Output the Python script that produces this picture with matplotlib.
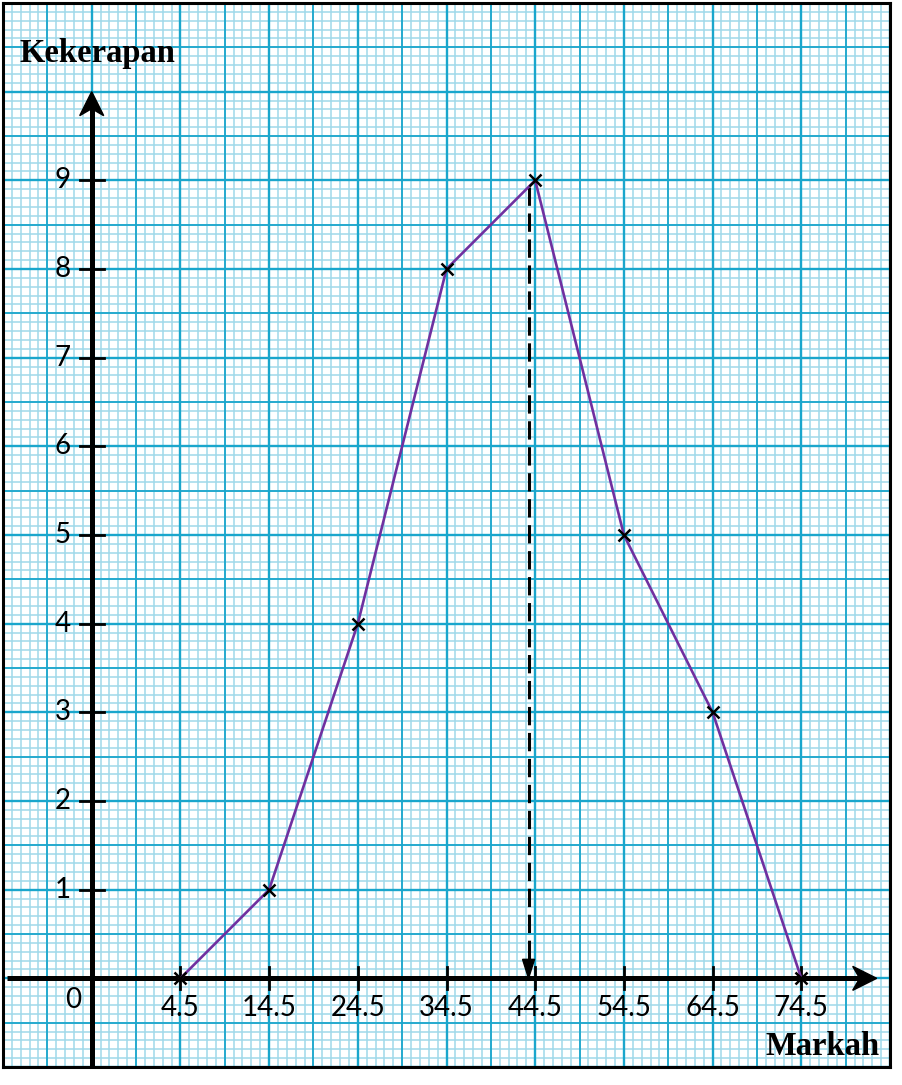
import numpy as np
import matplotlib
matplotlib.use("Agg")
import matplotlib.pyplot as plt
from matplotlib.patches import Polygon

# Data
marks = [4.5, 14.5, 24.5, 34.5, 44.5, 54.5, 64.5, 74.5]
freq = [0, 1, 4, 8, 9, 5, 3, 0]
y_ticks = [1, 2, 3, 4, 5, 6, 7, 8, 9]
x_labels = ["4.5", "14.5", "24.5", "34.5", "44.5", "54.5", "64.5", "74.5"]
mode_mark = 44.5
y_title = "Kekerapan"
x_title = "Markah"

W, H = 902, 1085
fig = plt.figure(figsize=(W / 100, H / 100), dpi=100)
ax = fig.add_axes([3 / W, 18 / H, 887 / W, 1064 / H])
X0, X1, Y0, Y1 = -15.5, 84.5, -1.0, 11.0
ax.set_xlim(X0, X1)
ax.set_ylim(Y0, Y1)
ax.set_xticks([])
ax.set_yticks([])
for s in ax.spines.values():
    s.set_linewidth(2.2)
    s.set_color("black")
    s.set_zorder(10)

major_c = "#1aa6cc"
minor_c = "#9fd9ea"

# graph paper grid
xs_minor = np.arange(X0, X1 + 0.01, 1.0)
ys_minor = np.arange(Y0, Y1 + 0.001, 0.1)
ax.vlines(xs_minor, Y0, Y1, colors=minor_c, linewidth=1.1, zorder=0)
ax.hlines(ys_minor, X0, X1, colors=minor_c, linewidth=1.1, zorder=0)
xs_med = np.arange(X0, X1 + 0.01, 5.0)
ys_med = np.arange(Y0, Y1 + 0.001, 0.5)
ax.vlines(xs_med, Y0, Y1, colors=major_c, linewidth=1.3, zorder=1)
ax.hlines(ys_med, X0, X1, colors=major_c, linewidth=1.3, zorder=1)
xs_maj = np.arange(X0, X1 + 0.01, 10.0)
ys_maj = np.arange(Y0, Y1 + 0.001, 1.0)
ax.vlines(xs_maj, Y0, Y1, colors=major_c, linewidth=1.7, zorder=1)
ax.hlines(ys_maj, X0, X1, colors=major_c, linewidth=1.7, zorder=1)

# scale: px per unit
px_x = 887 / (X1 - X0)
px_y = 1064 / (Y1 - Y0)

yax_x = -5.5
ax_lw = 3.6
# y axis
ax.plot([yax_x, yax_x], [Y0, 9.85], color="black", lw=ax_lw, solid_capstyle="butt", zorder=5)
tip = 10.0
ax.add_patch(Polygon([[yax_x, tip], [yax_x - 12 / px_x, tip - 24 / px_y],
                      [yax_x, tip - 17 / px_y], [yax_x + 12 / px_x, tip - 24 / px_y]],
                     closed=True, color="black", zorder=6))
# x axis
ax.plot([X0 + 0.5, 81.5], [0, 0], color="black", lw=ax_lw, solid_capstyle="butt", zorder=5)
tipx = 83.0
ax.add_patch(Polygon([[tipx, 0], [tipx - 24 / px_x, 12 / px_y],
                      [tipx - 17 / px_x, 0], [tipx - 24 / px_x, -12 / px_y]],
                     closed=True, color="black", zorder=6))

fs = 20
# ticks
for yv in y_ticks:
    ax.plot([yax_x - 12 / px_x, yax_x + 12 / px_x], [yv, yv], color="black", lw=2.0, zorder=5)
    ax.text(-7.9, yv, str(yv), ha="right", va="center", fontsize=fs, family="Lato", zorder=7)
for xv, lab in zip(marks, x_labels):
    ax.plot([xv, xv], [-11 / px_y, 11 / px_y], color="black", lw=2.0, zorder=5)
    ax.text(xv, -0.19, lab, ha="center", va="top", fontsize=fs, family="Lato", zorder=7)
ax.text(-7.6, -0.25, "0", ha="center", va="center", fontsize=fs, family="Lato", zorder=7)

# titles
ax.text(-13.6, 10.43, y_title, ha="left", va="center", fontsize=23.5, fontweight="bold",
        family="Liberation Serif", zorder=7)
ax.text(83.3, -0.77, x_title, ha="right", va="center", fontsize=23.5, fontweight="bold",
        family="Liberation Serif", zorder=7)

# polygon
ax.plot(marks, freq, color="#7030a0", lw=1.9, zorder=7)
ax.plot(marks, freq, linestyle="none", marker="x", markersize=9, mew=1.8, color="black", zorder=8)

# dashed mode line
dx = mode_mark - 0.75
ax.plot([dx, dx], [max(freq) - 0.08, 18 / px_y], color="black", lw=2.2,
        dashes=(6, 2.5), zorder=6)
ax.add_patch(Polygon([[dx, 0], [dx - 6 / px_x, 19 / px_y], [dx + 6 / px_x, 19 / px_y]],
                     closed=True, color="black", zorder=6))

fig.savefig("out.png", dpi=100)
